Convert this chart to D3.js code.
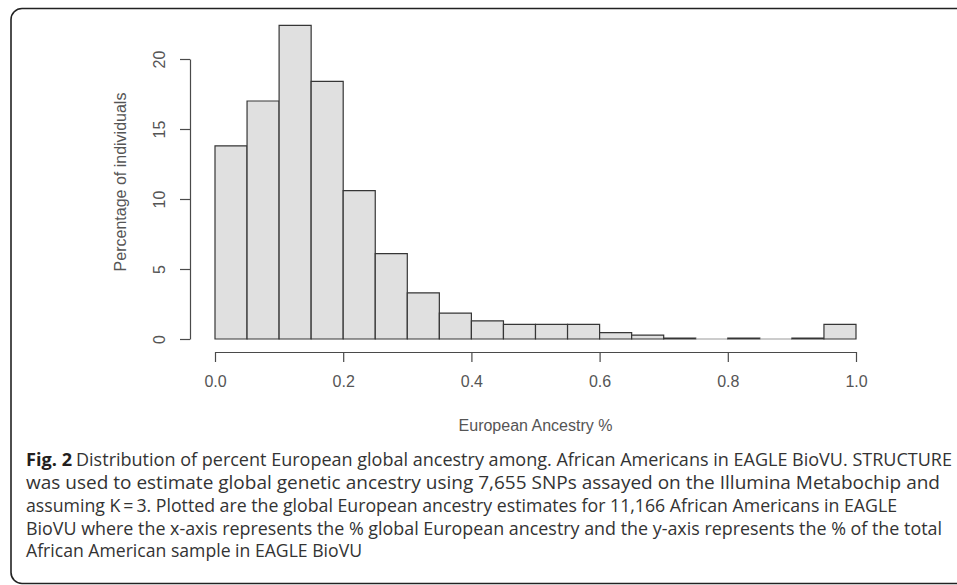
<!DOCTYPE html>
<html>
<head>
<meta charset="utf-8">
<script src="https://cdn.jsdelivr.net/npm/d3@7"></script>
<style>
  html, body { margin: 0; padding: 0; background: #fff; }
  svg { display: block; }
</style>
</head>
<body>
<svg id="chart" width="957" height="585"></svg>
<script>
// ---- Data ----
const binStarts = [0.00,0.05,0.10,0.15,0.20,0.25,0.30,0.35,0.40,0.45,0.50,0.55,0.60,0.65,0.70,0.75,0.80,0.85,0.90,0.95];
const binWidth = 0.05;
const percentages = [13.8,17.0,22.4,18.4,10.6,6.1,3.3,1.85,1.3,1.05,1.05,1.05,0.45,0.28,0.06,0.0,0.06,0.0,0.07,1.05];
const xTicks = [0.0,0.2,0.4,0.6,0.8,1.0];
const yTicks = [0,5,10,15,20];
const xTitle = "European Ancestry %";
const yTitle = "Percentage of individuals";
const captionBold = "Fig. 2";
const captionLines = [
  "Distribution of percent European global ancestry among. African Americans in EAGLE BioVU. STRUCTURE",
  "was used to estimate global genetic ancestry using 7,655 SNPs assayed on the Illumina Metabochip and",
  "assuming K\u2009=\u20093. Plotted are the global European ancestry estimates for 11,166 African Americans in EAGLE",
  "BioVU where the x-axis represents the % global European ancestry and the y-axis represents the % of the total",
  "African American sample in EAGLE BioVU"
];

// ---- Layout ----
const svg = d3.select("#chart");
const x = d3.scaleLinear().domain([0, 1]).range([215, 856]);
const y = d3.scaleLinear().domain([0, 20]).range([339, 59]);
const axisFont = "'Liberation Sans', Arial, Helvetica, sans-serif";
const axisColor = "#4a4a4a";

// frame
svg.append("rect")
  .attr("x", 11).attr("y", 8.5)
  .attr("width", 970).attr("height", 575)
  .attr("rx", 11).attr("ry", 11)
  .attr("fill", "none").attr("stroke", "#222").attr("stroke-width", 1.6);

// bars (paths so that zero-height bins still show as a line, like R)
svg.append("g").selectAll("path")
  .data(binStarts.map((s, i) => ({s, v: percentages[i]})))
  .join("path")
  .attr("d", d => {
    const x0 = x(d.s), x1 = x(d.s + binWidth), y0 = y(0), y1 = y(d.v);
    return `M${x0},${y0}V${y1}H${x1}V${y0}Z`;
  })
  .attr("fill", "#e0e0e0")
  .attr("stroke", d => d.v === 0 ? "#9a9a9a" : "#363636")
  .attr("stroke-width", 1.2);

// x axis
const gx = svg.append("g").attr("transform", "translate(0,352)")
  .call(d3.axisBottom(x).tickValues(xTicks).tickFormat(d3.format(".1f"))
        .tickSize(10).tickSizeOuter(0).tickPadding(14));
gx.select(".domain").attr("stroke", axisColor).attr("stroke-width", 1.2);
gx.selectAll(".tick line").attr("stroke", axisColor).attr("stroke-width", 1.2);
gx.selectAll(".tick text").attr("font-family", axisFont).attr("font-size", 16).attr("fill", "#555");

// y axis
const gy = svg.append("g").attr("transform", "translate(190,0)")
  .call(d3.axisLeft(y).tickValues(yTicks).tickSize(10).tickSizeOuter(0));
gy.select(".domain").attr("stroke", axisColor).attr("stroke-width", 1.2);
gy.selectAll(".tick line").attr("stroke", axisColor).attr("stroke-width", 1.2);
gy.selectAll(".tick text")
  .attr("font-family", axisFont).attr("font-size", 16).attr("fill", "#555")
  .attr("transform", "rotate(-90)")
  .attr("x", 0).attr("y", -25).attr("dy", null)
  .attr("text-anchor", "middle");

// axis titles
svg.append("text")
  .attr("x", (x(0) + x(1)) / 2).attr("y", 431)
  .attr("text-anchor", "middle")
  .attr("font-family", axisFont).attr("font-size", 16).attr("fill", "#555")
  .text(xTitle);
svg.append("text")
  .attr("transform", "translate(126,182) rotate(-90)")
  .attr("text-anchor", "middle")
  .attr("font-family", axisFont).attr("font-size", 16).attr("fill", "#555")
  .text(yTitle);

// caption
const capFont = "'Open Sans', 'Noto Sans', sans-serif";
const baselines = [466, 489, 512, 534.5, 557];
const lineEnds = [952, 940, 897, 942, 362];
svg.append("text")
  .attr("x", 26).attr("y", baselines[0])
  .attr("font-family", capFont).attr("font-size", 17.5).attr("font-weight", "bold").attr("fill", "#231f20")
  .attr("textLength", 46).attr("lengthAdjust", "spacingAndGlyphs")
  .text(captionBold);
captionLines.forEach((t, i) => {
  const x0 = i === 0 ? 76 : 26;
  svg.append("text")
    .attr("x", x0).attr("y", baselines[i])
    .attr("font-family", capFont).attr("font-size", 17.5).attr("fill", "#333")
    .attr("textLength", lineEnds[i] - x0).attr("lengthAdjust", "spacingAndGlyphs")
    .text(t);
});
</script>
</body>
</html>
